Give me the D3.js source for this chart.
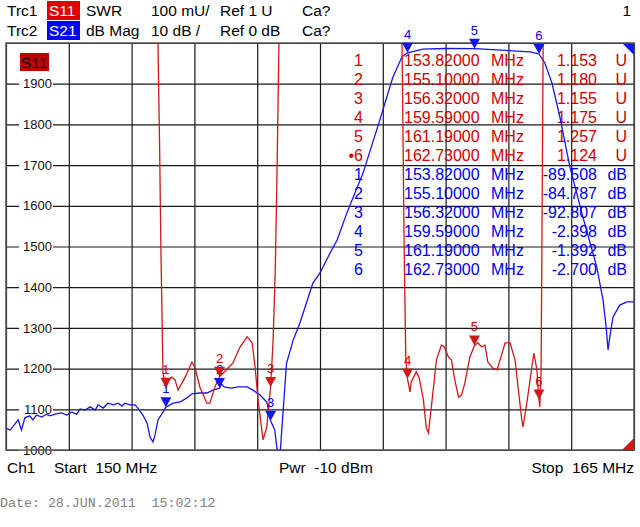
<!DOCTYPE html>
<html>
<head>
<meta charset="utf-8">
<script src="https://cdn.jsdelivr.net/npm/d3@7"></script>
<style>
body { margin: 0; background: #fff; }
svg text { font-family: "Liberation Sans", Arial, sans-serif; white-space: pre; }
</style>
</head>
<body>
<svg id="chart" width="640" height="527"></svg>
<script>
// trace data (frequency in MHz)
var s21Freq = [150.00,150.10,150.29,150.37,150.45,150.57,150.64,150.73,150.85,150.97,151.05,151.17,151.33,151.45,151.57,151.69,151.77,151.89,152.01,152.13,152.20,152.32,152.44,152.56,152.68,152.77,152.84,152.96,153.08,153.15,153.27,153.37,153.44,153.51,153.56,153.63,153.75,153.82,153.99,154.16,154.32,154.44,154.63,154.80,154.94,155.10,155.15,155.21,155.37,155.54,155.76,155.90,156.07,156.23,156.32,156.42,156.47,156.51,156.55,156.70,156.86,157.02,157.33,157.50,157.74,157.91,158.14,158.53,158.93,159.24,159.46,159.59,159.96,160.49,161.19,161.73,162.52,162.73,162.87,163.04,163.23,163.47,163.78,164.11,164.26,164.33,164.38,164.43,164.50,164.66,164.83,165.00];
var s21dB = [-94.6,-95.1,-92.6,-95.1,-92.1,-91.6,-92.6,-91.4,-91.9,-91.2,-91.6,-91.2,-90.9,-91.4,-90.7,-91.2,-89.9,-90.2,-89.4,-90.2,-88.9,-89.7,-88.5,-88.9,-88.5,-89.2,-88.5,-88.9,-88.9,-89.7,-91.4,-93.4,-96.8,-98.0,-96.3,-92.6,-90.7,-89.5,-88.5,-88.2,-87.2,-86.2,-86.0,-86.0,-85.3,-84.8,-83.8,-84.5,-84.8,-84.5,-84.5,-85.3,-86.5,-88.2,-92.8,-95.1,-99.5,-102.0,-100.5,-78.7,-73.0,-68.8,-59.0,-56.5,-51.6,-48.4,-41.8,-31.9,-18.9,-8.4,-3.4,-2.4,-1.5,-1.35,-1.39,-1.7,-2.2,-2.7,-4.9,-9.8,-18.2,-30.5,-42.8,-55.0,-63.1,-69.3,-75.4,-71.7,-67.3,-64.4,-63.6,-63.6];

var s11Freq = [150.00,151.50,153.00,153.63,153.67,153.70,153.75,153.82,153.87,153.96,154.04,154.11,154.28,154.44,154.51,154.63,154.80,154.87,154.99,155.10,155.30,155.42,155.59,155.76,155.88,155.95,156.02,156.14,156.23,156.32,156.38,156.43,156.47,156.52,157.00,158.00,159.00,159.46,159.51,159.55,159.59,159.65,159.68,159.80,159.87,159.97,160.04,160.09,160.16,160.28,160.40,160.47,160.57,160.64,160.72,160.81,160.88,160.96,161.08,161.19,161.27,161.37,161.44,161.51,161.63,161.73,161.85,161.92,162.04,162.16,162.23,162.32,162.35,162.44,162.56,162.61,162.68,162.73,162.75,162.78,162.80,162.83,163.50,165.00];
// SWR in mU
var s11SWR = [3200,3000,2800,2000,1737,1491,1189,1153,1172,1179,1172,1147,1179,1216,1204,1155,1115,1115,1155,1180,1201,1214,1253,1278,1263,1204,1123,1025,1057,1155,1270,1435,1663,2000,3000,3000,3000,2000,1491,1221,1175,1143,1167,1192,1177,1123,1054,1042,1106,1221,1258,1253,1228,1221,1172,1130,1135,1165,1228,1257,1263,1253,1258,1216,1201,1197,1238,1263,1263,1221,1155,1074,1057,1115,1204,1238,1197,1124,1106,1189,1491,2000,3000,3000];

// markers
var markerNames = ["1","2","3","4","5","6"];
var markerFreq = [153.82, 155.10, 156.32, 159.59, 161.19, 162.73];
var s11Marker = [1.153, 1.180, 1.155, 1.175, 1.257, 1.124];
var s21Marker = [-89.508, -84.787, -92.807, -2.398, -1.392, -2.700];
var activeMarker = 5;

// axis ticks
var xGrid = [150, 151.5, 153, 154.5, 156, 157.5, 159, 160.5, 162, 163.5, 165];
var yGrid = [1000, 1100, 1200, 1300, 1400, 1500, 1600, 1700, 1800, 1900, 2000];
var yLabels = ["1000","1100","1200","1300","1400","1500","1600","1700","1800","1900"];

// colours
var red = "#d01818";
var blue = "#1414ee";
var redText = "#cc0000";
var blueText = "#0000e6";

// plot area
const pLeft = 6, pRight = 634, pTop = 43, pBottom = 450;

const svg = d3.select("#chart");

const x = d3.scaleLinear().domain([150, 165]).range([pLeft, pRight]);
const yS11 = d3.scaleLinear().domain([1000, 2000]).range([pBottom, pTop]);
const yS21 = d3.scaleLinear().domain([-100, 0]).range([pBottom, pTop]);

// grid
const gx = svg.append("g")
    .attr("transform", `translate(0,${pBottom})`)
    .call(d3.axisBottom(x).tickValues(xGrid).tickSize(-(pBottom - pTop)).tickFormat(""));
const gy = svg.append("g")
    .attr("transform", `translate(${pLeft},0)`)
    .call(d3.axisLeft(yS11).tickValues(yGrid).tickSize(-(pRight - pLeft)).tickFormat(""));
[gx, gy].forEach(g => {
    g.select(".domain").remove();
    g.selectAll("line").attr("stroke", "#1a1a1a").attr("stroke-width", 1.2);
});

// y labels with white background
const yl = svg.append("g");
yLabels.forEach(t => {
    let yy = yS11(+t);
    yl.append("rect").attr("x", 19).attr("y", yy - 7).attr("width", 34).attr("height", 14).attr("fill", "#fff");
    yl.append("text").attr("x", 52).attr("y", yy).attr("dy", "0.36em")
        .attr("text-anchor", "end").attr("font-size", 13).attr("fill", "#111").text(t);
});

// frame
svg.append("rect").attr("x", pLeft).attr("y", pTop)
    .attr("width", pRight - pLeft).attr("height", pBottom - pTop)
    .attr("fill", "none").attr("stroke", "#555").attr("stroke-width", 1.5);

// S11 tag in plot
svg.append("rect").attr("x", 20).attr("y", 53).attr("width", 29).attr("height", 18).attr("fill", "#c00000");
svg.append("text").attr("x", 21).attr("y", 68).attr("font-size", 15.5).attr("fill", "#000").text("S11");

// marker table
const table = svg.append("g").attr("font-size", 16);
const rowY = (i) => 65.5 + 19.05 * i;
const fmtF = d3.format(".5f");
const fmtV = d3.format(".3f");
const addRow = (i, name, f, val, unit, col) => {
    table.append("text").attr("x", 363).attr("y", rowY(i)).attr("text-anchor", "end").attr("fill", col).text(name);
    table.append("text").attr("x", 404).attr("y", rowY(i)).attr("fill", col).text(fmtF(f));
    table.append("text").attr("x", 491).attr("y", rowY(i)).attr("fill", col).text("MHz");
    table.append("text").attr("x", 597).attr("y", rowY(i)).attr("text-anchor", "end").attr("fill", col).text(val);
    table.append("text").attr("x", 627).attr("y", rowY(i)).attr("text-anchor", "end").attr("fill", col).text(unit);
};
markerNames.forEach((m, i) => {
    addRow(i, (i === activeMarker ? "\u2022" : "") + m, markerFreq[i], fmtV(s11Marker[i]), "U", redText);
});
markerNames.forEach((m, i) => {
    addRow(i + 6, m, markerFreq[i], fmtV(s21Marker[i]).replace("\u2212", "-"), "dB", blueText);
});

// traces
svg.append("clipPath").attr("id", "plotClip")
    .append("rect").attr("x", pLeft).attr("y", pTop).attr("width", pRight - pLeft).attr("height", pBottom - pTop);

const lineS21 = d3.line().x(d => x(d[0])).y(d => yS21(d[1]));
const lineS11 = d3.line().x(d => x(d[0])).y(d => yS11(d[1]));

const traces = svg.append("g").attr("clip-path", "url(#plotClip)");
traces.append("path").datum(d3.zip(s21Freq, s21dB))
    .attr("d", lineS21).attr("fill", "none").attr("stroke", blue).attr("stroke-width", 1.3);
traces.append("path").datum(d3.zip(s11Freq, s11SWR))
    .attr("d", lineS11).attr("fill", "none").attr("stroke", red).attr("stroke-width", 1.3);

// markers
const tri = (px, py) => `M${px - 5.5},${py - 10}L${px + 5.5},${py - 10}L${px},${py}Z`;
const drawMarkers = (vals, yScale, col, txtCol) => {
    vals.forEach((v, i) => {
        let px = x(markerFreq[i]), py = yScale(v);
        svg.append("text").attr("x", px).attr("y", py - 14).attr("text-anchor", "middle")
            .attr("font-size", 13).attr("fill", txtCol).text(markerNames[i]);
        svg.append("path").attr("d", tri(px, py)).attr("fill", col);
    });
};
drawMarkers(s21Marker, yS21, blue, blueText);
drawMarkers(s11Marker.map(v => v * 1000), yS11, red, redText);

// corner indicators
svg.append("path").attr("d", `M${pRight - 11},${pTop + 1}L${pRight},${pTop + 1}L${pRight},${pTop + 12}Z`).attr("fill", blue);
svg.append("path").attr("d", `M${pRight},${pBottom - 12}L${pRight},${pBottom}L${pRight - 12},${pBottom}Z`).attr("fill", red);

// header
const head = svg.append("g").attr("font-size", 15.5).attr("fill", "#000");
head.append("rect").attr("x", 47).attr("y", 1).attr("width", 33).attr("height", 19).attr("fill", "#e00000");
head.append("rect").attr("x", 47).attr("y", 21).attr("width", 33).attr("height", 19).attr("fill", "#0000ff");
const hRow = (yy, items) => items.forEach(it => {
    head.append("text").attr("x", it[0]).attr("y", yy).attr("fill", it[2] || "#000").text(it[1]);
});
hRow(16, [[7, "Trc1"], [49, "S11", "#fff"], [86, "SWR"], [151, "100 mU/"], [220, "Ref 1 U"], [302, "Ca?"]]);
hRow(36, [[7, "Trc2"], [49, "S21", "#fff"], [86, "dB Mag"], [151, "10 dB /"], [220, "Ref 0 dB"], [302, "Ca?"]]);
head.append("text").attr("x", 631).attr("y", 16).attr("text-anchor", "end").text("1");

// footer
const foot = svg.append("g").attr("font-size", 15.5).attr("fill", "#000");
foot.append("text").attr("x", 7).attr("y", 473).text("Ch1");
foot.append("text").attr("x", 54).attr("y", 473).text("Start  150 MHz");
foot.append("text").attr("x", 279).attr("y", 473).text("Pwr  -10 dBm");
foot.append("text").attr("x", 634).attr("y", 473).attr("text-anchor", "end").text("Stop  165 MHz");

svg.append("text").attr("x", 0).attr("y", 507)
    .style("font-family", "'Liberation Mono', 'DejaVu Sans Mono', monospace")
    .attr("font-size", 13.3).attr("fill", "#808080").text("Date: 28.JUN.2011  15:02:12");
</script>
</body>
</html>
